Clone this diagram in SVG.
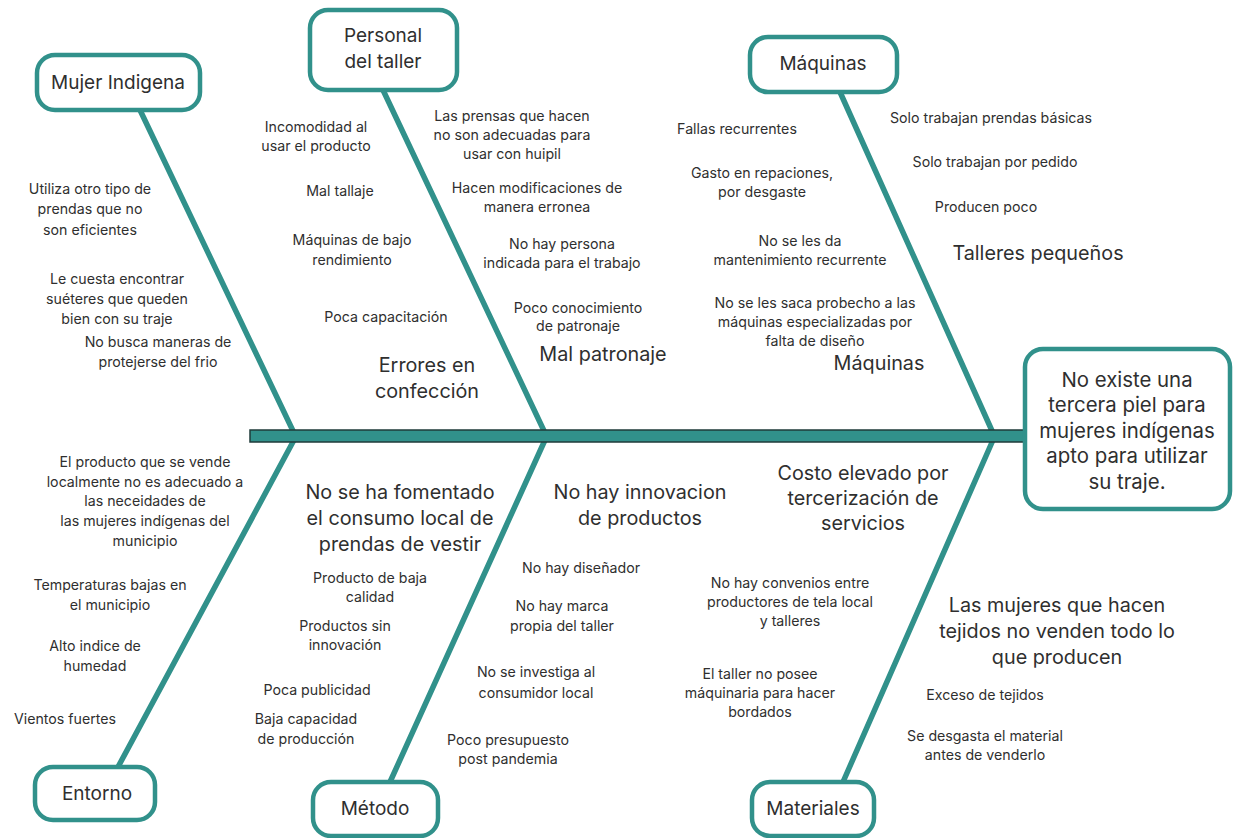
<svg xmlns="http://www.w3.org/2000/svg" width="1233" height="838" viewBox="0 0 1233 838">
<style>
.box{fill:#fff;stroke:#31918b;stroke-width:4.5}
.bone{stroke:#31918b;stroke-width:5.5;stroke-linecap:round;fill:none}
text{font-family:Inter,"Open Sans","Liberation Sans",sans-serif;fill:#2f2f2f;text-anchor:middle;font-weight:400}
.s{font-size:14.2px}
.m{font-size:19.8px}
.b{font-size:19px}
.r{font-size:20.4px}
</style>
<rect width="1233" height="838" fill="#fff"/>
<g id="connectors">
<line class="bone" x1="140" y1="110" x2="294" y2="433"/>
<line class="bone" x1="294" y1="440" x2="118" y2="767"/>
<line class="bone" x1="383" y1="90" x2="545" y2="433"/>
<line class="bone" x1="545" y1="440" x2="390" y2="782"/>
<line class="bone" x1="840" y1="92" x2="993" y2="433"/>
<line class="bone" x1="993" y1="440" x2="843" y2="782"/>
<rect id="spine" x="250" y="430" width="775" height="12" fill="#31918b" stroke="#1f3b3a" stroke-width="1.5"/>
</g>
<g id="mujer">
<rect class="box" x="37" y="55" width="163" height="55" rx="18"/>
<text class="b" x="118" y="89">Mujer Indigena</text>
</g>
<g id="personal">
<rect class="box" x="310" y="10" width="147" height="80" rx="18"/>
<text class="b" x="383" y="42">Personal</text>
<text class="b" x="383" y="68">del taller</text>
</g>
<g id="maquinas">
<rect class="box" x="750" y="37" width="147" height="55" rx="18"/>
<text class="b" x="823" y="70">Máquinas</text>
</g>
<g id="resultado">
<rect class="box" x="1025" y="349" width="205" height="160" rx="18"/>
<text class="r" x="1127" y="387">No existe una</text>
<text class="r" x="1127" y="412">tercera piel para</text>
<text class="r" x="1127" y="438">mujeres indígenas</text>
<text class="r" x="1127" y="463">apto para utilizar</text>
<text class="r" x="1127" y="489">su traje.</text>
</g>
<g id="entorno">
<rect class="box" x="35" y="767" width="120" height="53" rx="18"/>
<text class="b" x="97" y="800">Entorno</text>
</g>
<g id="metodo">
<rect class="box" x="313" y="782" width="125" height="54" rx="18"/>
<text class="b" x="375" y="815">Método</text>
</g>
<g id="materiales">
<rect class="box" x="752" y="782" width="122" height="54" rx="18"/>
<text class="b" x="813" y="815">Materiales</text>
</g>
<g id="causes-mujer">
<text class="s" x="90" y="194">Utiliza otro tipo de</text>
<text class="s" x="90" y="214">prendas que no</text>
<text class="s" x="90" y="235">son eficientes</text>
<text class="s" x="117" y="284">Le cuesta encontrar</text>
<text class="s" x="117" y="304">suéteres que queden</text>
<text class="s" x="117" y="324">bien con su traje</text>
<text class="s" x="158" y="347">No busca maneras de</text>
<text class="s" x="158" y="367">protejerse del frio</text>
</g>
<g id="causes-personal">
<text class="s" x="316" y="132">Incomodidad al</text>
<text class="s" x="316" y="151">usar el producto</text>
<text class="s" x="340" y="196">Mal tallaje</text>
<text class="s" x="352" y="245">Máquinas de bajo</text>
<text class="s" x="352" y="265">rendimiento</text>
<text class="s" x="386" y="322">Poca capacitación</text>
<text class="m" x="427" y="372">Errores en</text>
<text class="m" x="427" y="398">confección</text>
<text class="s" x="512" y="121">Las prensas que hacen</text>
<text class="s" x="512" y="140">no son adecuadas para</text>
<text class="s" x="512" y="159">usar con huipil</text>
<text class="s" x="537" y="193">Hacen modificaciones de</text>
<text class="s" x="537" y="212">manera erronea</text>
<text class="s" x="562" y="249">No hay persona</text>
<text class="s" x="562" y="268">indicada para el trabajo</text>
<text class="s" x="578" y="313">Poco conocimiento</text>
<text class="s" x="578" y="331">de patronaje</text>
<text class="m" x="603" y="361">Mal patronaje</text>
</g>
<g id="causes-maquinas">
<text class="s" x="737" y="134">Fallas recurrentes</text>
<text class="s" x="762" y="178">Gasto en repaciones,</text>
<text class="s" x="762" y="197">por desgaste</text>
<text class="s" x="800" y="246">No se les da</text>
<text class="s" x="800" y="265">mantenimiento recurrente</text>
<text class="s" x="815" y="308">No se les saca probecho a las</text>
<text class="s" x="815" y="327">máquinas especializadas por</text>
<text class="s" x="815" y="346">falta de diseño</text>
<text class="m" x="879" y="370">Máquinas</text>
<text class="s" x="991" y="123">Solo trabajan prendas básicas</text>
<text class="s" x="995" y="167">Solo trabajan por pedido</text>
<text class="s" x="986" y="212">Producen poco</text>
<text class="m" x="1038" y="260">Talleres pequeños</text>
</g>
<g id="causes-entorno">
<text class="s" x="145" y="467">El producto que se vende</text>
<text class="s" x="145" y="487">localmente no es adecuado a</text>
<text class="s" x="145" y="506">las neceidades de</text>
<text class="s" x="145" y="526">las mujeres indígenas del</text>
<text class="s" x="145" y="546">municipio</text>
<text class="s" x="110" y="590">Temperaturas bajas en</text>
<text class="s" x="110" y="610">el municipio</text>
<text class="s" x="95" y="651">Alto indice de</text>
<text class="s" x="95" y="671">humedad</text>
<text class="s" x="65" y="724">Vientos fuertes</text>
</g>
<g id="causes-metodo">
<text class="m" x="400" y="499">No se ha fomentado</text>
<text class="m" x="400" y="525">el consumo local de</text>
<text class="m" x="400" y="551">prendas de vestir</text>
<text class="s" x="370" y="583">Producto de baja</text>
<text class="s" x="370" y="602">calidad</text>
<text class="s" x="345" y="631">Productos sin</text>
<text class="s" x="345" y="650">innovación</text>
<text class="s" x="317" y="695">Poca publicidad</text>
<text class="s" x="306" y="724">Baja capacidad</text>
<text class="s" x="306" y="744">de producción</text>
<text class="m" x="640" y="499">No hay innovacion</text>
<text class="m" x="640" y="525">de productos</text>
<text class="s" x="581" y="573">No hay diseñador</text>
<text class="s" x="562" y="611">No hay marca</text>
<text class="s" x="562" y="631">propia del taller</text>
<text class="s" x="536" y="677">No se investiga al</text>
<text class="s" x="536" y="698">consumidor local</text>
<text class="s" x="508" y="745">Poco presupuesto</text>
<text class="s" x="508" y="764">post pandemia</text>
</g>
<g id="causes-materiales">
<text class="m" x="863" y="480">Costo elevado por</text>
<text class="m" x="863" y="505">tercerización de</text>
<text class="m" x="863" y="530">servicios</text>
<text class="s" x="790" y="588">No hay convenios entre</text>
<text class="s" x="790" y="607">productores de tela local</text>
<text class="s" x="790" y="626">y talleres</text>
<text class="s" x="760" y="679">El taller no posee</text>
<text class="s" x="760" y="698">máquinaria para hacer</text>
<text class="s" x="760" y="717">bordados</text>
<text class="m" x="1057" y="612">Las mujeres que hacen</text>
<text class="m" x="1057" y="638">tejidos no venden todo lo</text>
<text class="m" x="1057" y="664">que producen</text>
<text class="s" x="985" y="700">Exceso de tejidos</text>
<text class="s" x="985" y="741">Se desgasta el material</text>
<text class="s" x="985" y="760">antes de venderlo</text>
</g>
</svg>
